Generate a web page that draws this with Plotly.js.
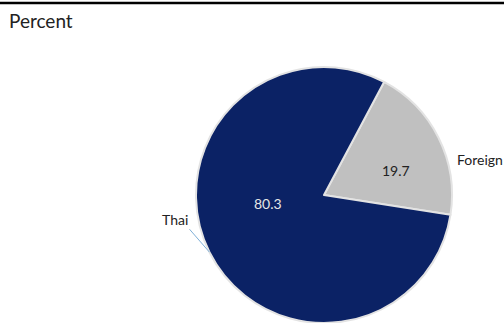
<!DOCTYPE html>
<html>
<head>
<meta charset="utf-8">
<script src="https://cdn.plot.ly/plotly-3.0.1.min.js"></script>
<style>html,body{margin:0;padding:0;background:#fff;}#chart{width:504px;height:323px;}</style>
</head>
<body>
<div id="chart"></div>
<script>
const categories = ['Foreign', 'Thai'];
const values = [19.7, 80.3];
const sliceColors = ['#c0c0c0', '#0b2265'];
const valueTextColors = ['#222222', '#e6e6e6'];
const unitLabel = 'Percent';

// layout / style constants (not data)
const W = 504, H = 323;
const CX = 324, CY = 195, R = 128;          // pie centre and radius in px
const ROT = 28;                              // start angle, degrees clockwise from 12 o'clock
const FONT = 'Lato, "Open Sans", sans-serif';
const valueRadius = [0.59, 0.44];            // inside label distance (fraction of R)
const valueAngleNudge = [8, 18];             // degrees
const labelOffset = [[17, 22], [-20, -23]];  // px offset of outside labels from slice edge
const labelAnchors = [['left', 'middle'], ['right', 'bottom']];
const leaderColors = ['rgba(0,0,0,0)', '#7fb0d8'];

const domain = {x: [(CX - R) / W, (CX + R) / W], y: [1 - (CY + R) / H, 1 - (CY - R) / H]};

const pieTrace = {
  type: 'pie',
  labels: categories,
  values: values,
  sort: false,
  direction: 'clockwise',
  rotation: ROT,
  domain: domain,
  marker: {colors: sliceColors, line: {color: '#e3e3e3', width: 2}},
  textinfo: 'none',
  showlegend: false,
  hoverinfo: 'label+value'
};

const toPaper = (px, py) => ({x: px / W, y: 1 - py / H});
const total = values.reduce((a, b) => a + b, 0);
const annotations = [];
let start = ROT;
values.forEach((v, i) => {
  const sweep = v / total * 360;
  const mid = start + sweep / 2;
  start += sweep;
  // value label inside the slice
  const va = (mid + valueAngleNudge[i]) * Math.PI / 180;
  const vp = toPaper(CX + R * valueRadius[i] * Math.sin(va), CY - R * valueRadius[i] * Math.cos(va));
  annotations.push({text: String(v), xref: 'paper', yref: 'paper', x: vp.x, y: vp.y,
    showarrow: false, xanchor: 'center', yanchor: 'middle',
    font: {family: FONT, size: 14, color: valueTextColors[i]}});
  // category label outside with leader line to slice edge
  const ma = mid * Math.PI / 180;
  const ep = toPaper(CX + R * Math.sin(ma), CY - R * Math.cos(ma));
  annotations.push({text: categories[i], xref: 'paper', yref: 'paper', x: ep.x, y: ep.y,
    showarrow: true, arrowhead: 0, arrowwidth: 1, arrowcolor: leaderColors[i],
    ax: labelOffset[i][0], ay: labelOffset[i][1], standoff: 0, startstandoff: 0,
    xanchor: labelAnchors[i][0], yanchor: labelAnchors[i][1], borderpad: 0,
    font: {family: FONT, size: 14, color: '#222'}});
});

annotations.push({text: unitLabel, xref: 'paper', yref: 'paper', x: 7 / W, y: 1 - 20 / H,
  xanchor: 'left', yanchor: 'middle', showarrow: false,
  font: {family: FONT, size: 19, color: '#222'}});

const layout = {
  width: W, height: H,
  margin: {l: 0, r: 0, t: 0, b: 0},
  paper_bgcolor: '#fff',
  plot_bgcolor: '#fff',
  shapes: [{type: 'line', xref: 'paper', yref: 'paper', x0: 0, x1: 1, y0: 1 - 3 / H, y1: 1 - 3 / H,
            line: {color: '#000', width: 2.5}}],
  annotations: annotations
};

Plotly.newPlot('chart', [pieTrace], layout, {staticPlot: true});
</script>
</body>
</html>
